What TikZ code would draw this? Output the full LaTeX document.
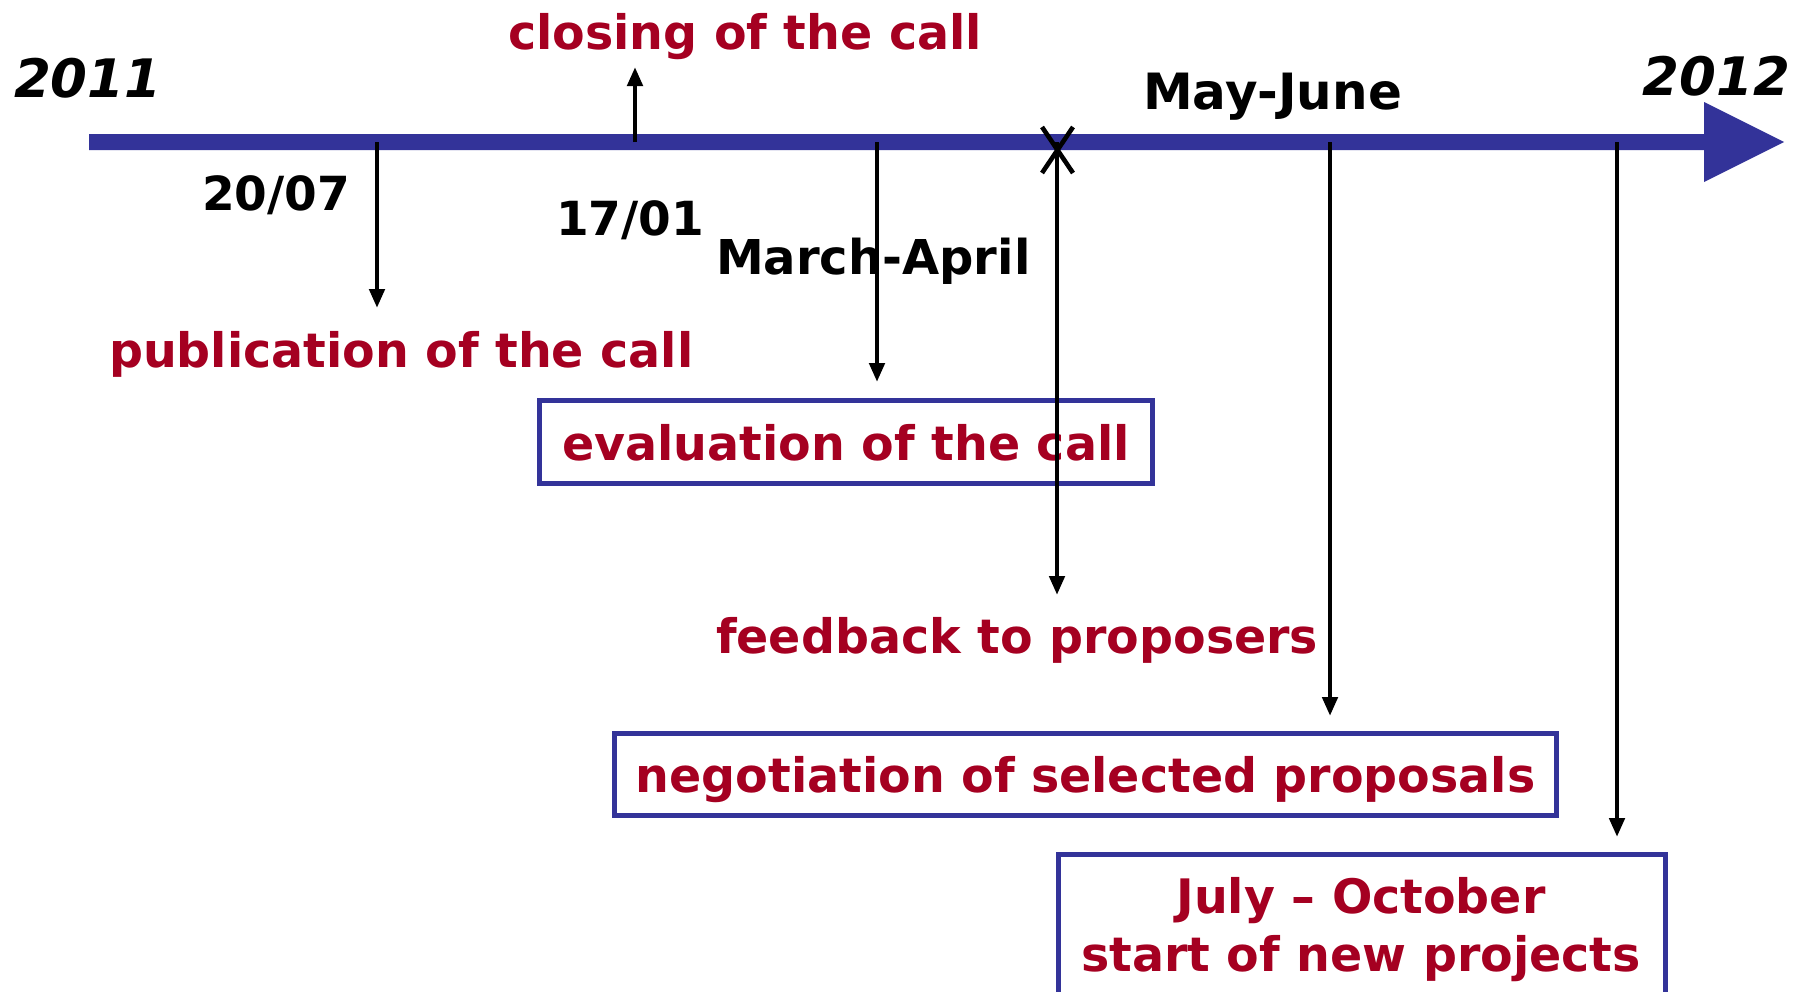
\documentclass[tikz,border=0pt]{standalone}
\usepackage{fontspec}
\setmainfont{DejaVu Sans}
\usetikzlibrary{arrows.meta}
\definecolor{callred}{RGB}{165,0,33}
\definecolor{axisblue}{RGB}{51,51,153}
\begin{document}
\begin{tikzpicture}[x=0.5pt,y=-0.5pt,
  lblfont/.style={font=\fontsize{23.5}{29.3}\selectfont\bfseries},
  redfont/.style={font=\fontsize{23.75}{29.3}\selectfont\bfseries},
  redlbl/.style={redfont,text=callred,inner sep=0pt,outer sep=0pt},
  blklbl/.style={lblfont,text=black,inner sep=0pt,outer sep=0pt},
  yearlbl/.style={font=\fontsize{26.5}{32}\selectfont\bfseries\itshape,inner sep=0pt,outer sep=0pt},
  phasebox/.style={draw=axisblue,line width=2.5pt,inner sep=0pt,outer sep=0pt,redfont,text=callred},
  tick/.style={line width=2.3pt,-{Triangle[length=9.5pt,width=7.5pt]}},
  cross/.style={line width=2.3pt}]
\path[use as bounding box,clip] (0,0) rectangle (1797,991);
% time axis
\fill[axisblue] (89,134) -- (1704,134) -- (1704,102) -- (1784,142) -- (1704,182) -- (1704,150) -- (89,150) -- cycle;
% years
\node[yearlbl,anchor=base west] (y2011) at (14,97) {2011};
\node[yearlbl,anchor=base east] (y2012) at (1790,95) {2012};
% labels
\node[redlbl,anchor=base west] (closing) at (508,49) {closing of the call};
\node[blklbl,anchor=base west,font=\fontsize{25}{30}\selectfont\bfseries] (mayjune) at (1143,109) {May-June};
\node[blklbl,anchor=base west] (d2007) at (202,210) {20/07};
\node[blklbl,anchor=base west] (d1701) at (556,235) {17/01};
\node[blklbl,anchor=base west,font=\fontsize{24}{29}\selectfont\bfseries] (march) at (716,274) {March-April};
\node[redlbl,anchor=base west] (publ) at (109,367) {publication of the call};
\node[redlbl,anchor=base west] (feedback) at (716,653) {feedback to proposers};
% boxes
\node[phasebox,minimum width=306.5pt,minimum height=41.75pt,text height=19pt,text depth=0pt] (evalbox) at (846,441.75) {evaluation of the call};
\node[phasebox,minimum width=471pt,minimum height=41pt,text height=17.5pt,text depth=0pt] (negbox) at (1085.5,774.5) {negotiation of selected proposals};
\node[phasebox,minimum width=303.5pt,minimum height=100pt,anchor=north] (julybox) at (1362,854.5) {};
\node[redlbl,anchor=base] (julyA) at (1361,913) {July -- October};
\node[redlbl,anchor=base] (julyB) at (1361,971.6) {start of new projects};
% axis points and arrow ends
\coordinate (a1) at (377,142); \coordinate (e1) at (377,308);
\coordinate (a2) at (635,142); \coordinate (e2) at (635,67);
\coordinate (a3) at (877,142); \coordinate (e3) at (877,382);
\coordinate (a4) at (1057,142); \coordinate (e4) at (1057,595);
\coordinate (a5) at (1330,142); \coordinate (e5) at (1330,716);
\coordinate (a6) at (1617,142); \coordinate (e6) at (1617,837);
\coordinate (x1) at (1042,127); \coordinate (x2) at (1073,173);
\coordinate (x3) at (1073,127); \coordinate (x4) at (1042,173);
\draw[tick] (a1) -- (e1);
\draw[tick] (a2) -- (e2);
\draw[tick] (a3) -- (e3);
\draw[tick] (a4) -- (e4);
\draw[tick] (a5) -- (e5);
\draw[tick] (a6) -- (e6);
\draw[cross] (x1) -- (x2);
\draw[cross] (x3) -- (x4);
\end{tikzpicture}
\end{document}
